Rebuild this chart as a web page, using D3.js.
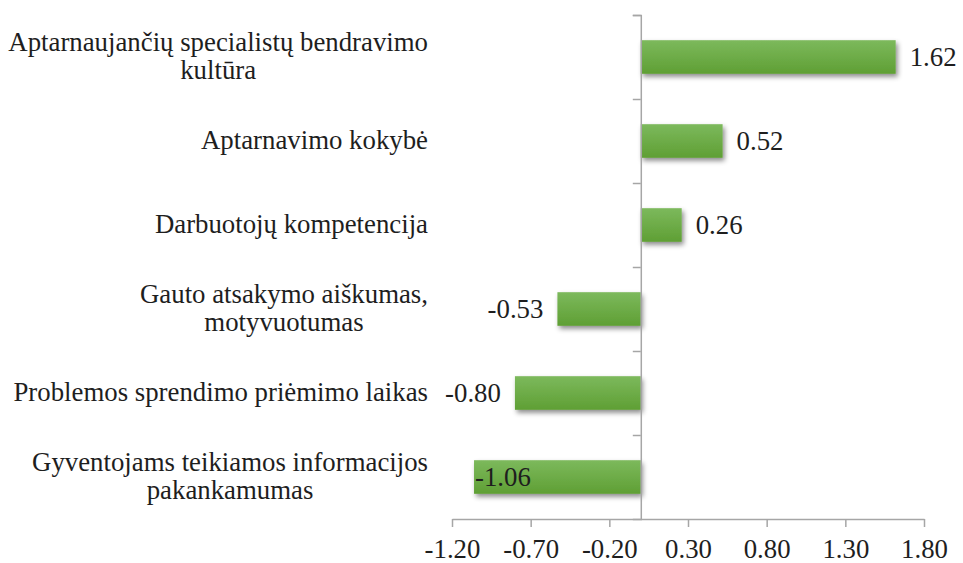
<!DOCTYPE html>
<html>
<head>
<meta charset="utf-8">
<script src="https://cdn.jsdelivr.net/npm/d3@7"></script>
<style>
  body { margin: 0; background: #fff; }
  svg { display: block; font-family: "Liberation Serif", "Times New Roman", serif; }
</style>
</head>
<body>
<div id="chart"></div>
<script>
// data
var categories = [
    ["Aptarnaujančių specialistų bendravimo", "kultūra"],
    ["Aptarnavimo kokybė"],
    ["Darbuotojų kompetencija"],
    ["Gauto atsakymo aiškumas,", "motyvuotumas"],
    ["Problemos sprendimo priėmimo laikas"],
    ["Gyventojams teikiamos informacijos", "pakankamumas"]
];
var values = [1.62, 0.52, 0.26, -0.53, -0.80, -1.06];
var tickValues = [-1.20, -0.70, -0.20, 0.30, 0.80, 1.30, 1.80];

var width = 963, height = 563;
var plotTop = 15, plotBottom = 519;
var fontSize = "26.8px";

var svg = d3.select("#chart").append("svg")
    .attr("width", width)
    .attr("height", height);

var defs = svg.append("defs");
var grad = defs.append("linearGradient")
    .attr("id", "barGrad")
    .attr("x1", 0).attr("y1", 0).attr("x2", 0).attr("y2", 1);
grad.append("stop").attr("offset", "0%").attr("stop-color", "#7cb95c");
grad.append("stop").attr("offset", "100%").attr("stop-color", "#5f9f34");

var shadow = defs.append("filter")
    .attr("id", "shadow")
    .attr("x", "-10%").attr("y", "-30%")
    .attr("width", "130%").attr("height", "180%");
shadow.append("feDropShadow")
    .attr("dx", 2).attr("dy", 3)
    .attr("stdDeviation", 2.5)
    .attr("flood-color", "#000")
    .attr("flood-opacity", 0.45);

var x = d3.scaleLinear()
    .domain([-1.20, 1.80])
    .range([452, 924]);

var idx = d3.range(categories.length);
var y = d3.scaleBand()
    .domain(idx)
    .range([plotTop, plotBottom])
    .paddingInner(0.6)
    .paddingOuter(0.3);

// bars
svg.selectAll(".bar")
    .data(idx)
    .enter().append("rect")
    .attr("class", "bar")
    .attr("x", function(i) { return x(Math.min(0, values[i])); })
    .attr("y", function(i) { return y(i); })
    .attr("width", function(i) { return Math.abs(x(values[i]) - x(0)); })
    .attr("height", y.bandwidth())
    .attr("fill", "url(#barGrad)")
    .attr("filter", "url(#shadow)");

// x axis
var xAxis = d3.axisBottom(x)
    .tickValues(tickValues)
    .tickSize(8)
    .tickSizeOuter(0)
    .tickFormat(d3.format(".2f"));

var gx = svg.append("g")
    .attr("transform", "translate(0," + plotBottom + ")")
    .call(xAxis);
gx.select(".domain").attr("stroke", "#a6a6a6").attr("stroke-width", 1.5);
gx.selectAll(".tick line").attr("stroke", "#a6a6a6").attr("stroke-width", 1.5);
gx.selectAll(".tick text")
    .attr("fill", "#1e1e1e")
    .attr("font-size", fontSize)
    .attr("font-family", "Liberation Serif, Times New Roman, serif")
    .attr("y", 39)
    .attr("dy", 0)
    .text(function(d) { return d3.format(".2f")(d).replace("−", "-"); });

// vertical axis at zero with category boundary ticks
var yAxis = d3.axisLeft(d3.scaleLinear().domain([0, categories.length]).range([plotTop, plotBottom]))
    .ticks(categories.length)
    .tickSize(8)
    .tickSizeOuter(8)
    .tickFormat("");
var gy = svg.append("g")
    .attr("transform", "translate(" + x(0) + ",0)")
    .call(yAxis);
gy.select(".domain").attr("stroke", "#a6a6a6").attr("stroke-width", 1.5);
gy.selectAll(".tick line").attr("stroke", "#a6a6a6").attr("stroke-width", 1.5);
gy.selectAll(".tick").filter(function(d) { return d === categories.length; }).remove();

// category labels
var labelRight = 428;
var lineH = 28;
idx.forEach(function(i) {
    var lines = categories[i];
    var g = svg.append("g");
    var texts = g.selectAll("text")
        .data(lines)
        .enter().append("text")
        .attr("font-size", fontSize)
        .attr("fill", "#1e1e1e")
        .attr("text-anchor", "middle")
        .attr("dy", "0.35em")
        .text(function(d) { return d; });
    var maxW = 0;
    texts.each(function() { maxW = Math.max(maxW, this.getComputedTextLength()); });
    var cx = labelRight - maxW / 2;
    var cy = y(i) + y.bandwidth() / 2;
    texts.attr("x", cx)
        .attr("y", function(d, j) { return cy + (j - (lines.length - 1) / 2) * lineH - 1; });
});

// value labels
svg.selectAll(".val")
    .data(idx)
    .enter().append("text")
    .attr("class", "val")
    .attr("font-size", fontSize)
    .attr("fill", "#1e1e1e")
    .attr("dy", "0.35em")
    .attr("y", function(i) { return y(i) + y.bandwidth() / 2; })
    .attr("x", function(i) {
        var v = values[i];
        if (v >= 0) return x(v) + 14;
        if (x(v) < 500) return x(v) + 1;
        return x(v) - 14;
    })
    .attr("text-anchor", function(i) {
        var v = values[i];
        if (v < 0 && x(v) >= 500) return "end";
        return "start";
    })
    .text(function(i) { return d3.format(".2f")(values[i]).replace("−", "-"); });
</script>
</body>
</html>
